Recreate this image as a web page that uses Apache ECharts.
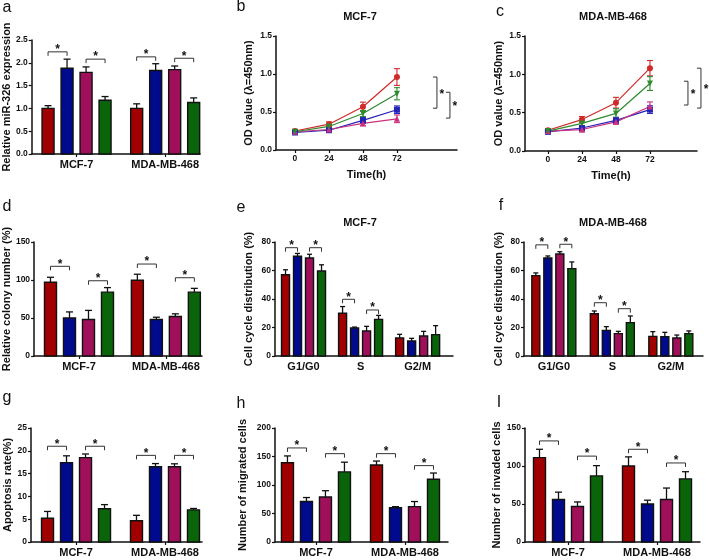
<!DOCTYPE html>
<html>
<head>
<meta charset="utf-8">
<script src="https://cdn.jsdelivr.net/npm/echarts@6/dist/echarts.min.js"></script>
<style>
html, body { margin: 0; background: #fff; }
#main { width: 709px; height: 560px; }
</style>
</head>
<body>
<div id="main"></div>
<script>
// groups on the x axis
var cellLines = ['MCF-7', 'MDA-MB-468'];
var phases = ['G1/G0', 'S', 'G2/M'];
var timePoints = [0, 24, 48, 72];

// bar order: red, blue, magenta, green ; one row per bar colour, one column per group
// a - relative miR-326 expression
var exprMean = [[1.00, 1.00], [1.88, 1.83], [1.79, 1.85], [1.18, 1.13]];
var exprErr = [[0.06, 0.10], [0.20, 0.15], [0.12, 0.08], [0.08, 0.10]];
var exprSig = [[0, 0, 1, 2.24], [0, 2, 3, 2.08], [1, 0, 1, 2.13], [1, 2, 3, 2.10]];

// b - CCK8 MCF-7 (line order: red, blue, magenta, green)
var odMcfMean = [[0.25, 0.34, 0.57, 0.96], [0.23, 0.26, 0.39, 0.53], [0.24, 0.27, 0.35, 0.41], [0.24, 0.31, 0.48, 0.74]];
var odMcfErr = [[0.02, 0.03, 0.06, 0.11], [0.02, 0.02, 0.04, 0.05], [0.02, 0.02, 0.03, 0.05], [0.02, 0.02, 0.04, 0.08]];
var odMcfSig = [[0.96, 0.55], [0.76, 0.42]];

// c - CCK8 MDA-MB-468
var odMdaMean = [[0.27, 0.41, 0.63, 1.08], [0.25, 0.30, 0.40, 0.54], [0.26, 0.28, 0.38, 0.58], [0.26, 0.36, 0.49, 0.88]];
var odMdaErr = [[0.02, 0.04, 0.07, 0.10], [0.02, 0.03, 0.04, 0.05], [0.02, 0.03, 0.03, 0.06], [0.02, 0.03, 0.06, 0.09]];
var odMdaSig = [[0.91, 0.60], [1.08, 0.56]];

// d - relative colony number
var colonyMean = [[97, 99.6], [50, 48], [48, 52], [84, 84]];
var colonyErr = [[6.6, 8], [8, 3], [12, 3.5], [6, 5]];
var colonySig = [[0, 0, 1, 118], [0, 2, 3, 99], [1, 0, 1, 121], [1, 2, 3, 103]];

// e - cell cycle MCF-7
var cycMcfMean = [[57, 30, 12.6], [70, 19.6, 10.5], [68.8, 17.5, 14], [59.6, 25.7, 15]];
var cycMcfErr = [[3.5, 4.7, 2.6], [2, 0.7, 1.9], [2.6, 3.3, 3.3], [4.4, 2.8, 6.3]];
var cycMcfSig = [[0, 0, 1, 76], [0, 2, 3, 76], [1, 0, 1, 39.8], [1, 2, 3, 32.3]];

// f - cell cycle MDA-MB-468
var cycMdaMean = [[56.4, 29.7, 13.8], [68.8, 18, 13.6], [71.6, 15.7, 12.6], [61.3, 23.4, 15.7]];
var cycMdaErr = [[1.9, 1.9, 3.3], [1.4, 2.6, 3], [1.6, 1.6, 2.1], [4.7, 4.7, 1.9]];
var cycMdaSig = [[0, 0, 1, 78], [0, 2, 3, 78.4], [1, 0, 1, 37.4], [1, 2, 3, 33.2]];

// g - apoptosis rate
var apoMean = [[5.2, 4.65], [17.4, 16.5], [18.5, 16.5], [7.3, 7.05]];
var apoErr = [[1.5, 1.2], [1.5, 0.7], [0.8, 0.65], [0.9, 0.3]];
var apoSig = [[0, 0, 1, 21], [0, 2, 3, 21], [1, 0, 1, 19], [1, 2, 3, 19]];

// h - migrated cells
var migMean = [[139, 135], [71, 60], [79, 62], [123, 110]];
var migErr = [[12, 7], [7, 2], [11, 9], [17, 11]];
var migSig = [[0, 0, 1, 165], [0, 2, 3, 155], [1, 0, 1, 155], [1, 2, 3, 134]];

// i - invaded cells
var invMean = [[111, 100], [56, 50], [46.7, 56], [87, 83]];
var invErr = [[11, 12], [9.6, 5], [6, 15], [13.5, 9.5]];
var invSig = [[0, 0, 1, 133], [0, 2, 3, 113], [1, 0, 1, 122], [1, 2, 3, 104]];

var barColors = ['#a00000', '#000a8c', '#a0105a', '#0a640a'];
var lineColors = ['#d02a2a', '#2323b8', '#c8327e', '#2d8a2d'];
var lineSymbols = ['circle', 'rect', 'triangle', 'triangle'];
var lineRotate = [0, 0, 0, 180];
var FONT = 'Liberation Sans, Arial, sans-serif';

var option = {
    animation: false,
    backgroundColor: '#fff',
    grid: [],
    xAxis: [],
    yAxis: [],
    series: [],
    graphic: []
};

function yAxisFor(p, idx) {
    return {
        type: 'value', gridIndex: idx, min: 0, max: p.yMax, interval: p.yStep,
        name: p.yName, nameLocation: 'middle', nameGap: p.nameGap,
        nameTextStyle: { fontFamily: FONT, fontWeight: 'bold', fontSize: 11, color: '#111' },
        axisLine: { show: true, onZero: false, lineStyle: { color: '#111', width: 1.5 } },
        axisTick: { show: true, length: 3, lineStyle: { color: '#111', width: 1.2 } },
        axisLabel: {
            fontFamily: FONT, fontWeight: 'bold', fontSize: 8.5, color: '#111', margin: 4,
            formatter: function (v) { return p.decimals ? v.toFixed(p.decimals) : String(v); }
        },
        splitLine: { show: false }
    };
}

function addText(x, y, text, size, bold) {
    option.graphic.push({
        type: 'text', x: x, y: y,
        style: {
            text: text, fill: '#111', fontFamily: FONT, fontSize: size,
            fontWeight: bold ? 'bold' : 'normal', align: 'center', verticalAlign: 'middle'
        }
    });
}

function addBarPanel(p) {
    var idx = option.grid.length;
    option.grid.push({ left: p.box[0], top: p.box[1], width: p.box[2], height: p.box[3] });
    var catIdx = p.cats.map(function (c, i) { return i; });
    option.xAxis.push({
        type: 'value', gridIndex: idx, min: p.xRange[0], max: p.xRange[1],
        axisLine: { show: true, onZero: false, lineStyle: { color: '#111', width: 1.5 } },
        axisTick: { show: p.ticks, customValues: catIdx, length: 3, lineStyle: { color: '#111', width: 1.2 } },
        axisLabel: {
            customValues: catIdx, margin: 5, fontFamily: FONT, fontWeight: 'bold', fontSize: 11, color: '#111',
            formatter: function (v) { return p.cats[Math.round(v)]; }
        },
        splitLine: { show: false }
    });
    option.yAxis.push(yAxisFor(p, idx));

    var w = p.barW, step = p.step, cap = p.cap;
    var bars = [];
    for (var s = 0; s < 4; s++) {
        for (var c = 0; c < p.cats.length; c++) {
            bars.push([c, s, p.mean[s][c], p.err[s][c]]);
        }
    }
    option.series.push({
        type: 'custom', xAxisIndex: idx, yAxisIndex: idx,
        encode: { x: 0, y: 2 },
        data: bars,
        renderItem: function (params, api) {
            var c = api.value(0), s = api.value(1), v = api.value(2), e = api.value(3);
            var base = api.coord([c, 0]);
            var top = api.coord([c, v]);
            var et = api.coord([c, v + e]);
            var cx = base[0] + (s - 1.5) * step;
            return {
                type: 'group',
                children: [
                    { type: 'line', shape: { x1: cx, y1: top[1], x2: cx, y2: et[1] }, style: { stroke: '#111', lineWidth: 1.3 } },
                    { type: 'line', shape: { x1: cx - cap, y1: et[1], x2: cx + cap, y2: et[1] }, style: { stroke: '#111', lineWidth: 1.3 } },
                    { type: 'rect', shape: { x: cx - w / 2, y: top[1], width: w, height: base[1] - top[1] },
                      style: { fill: barColors[s], stroke: '#111', lineWidth: 1.4 } }
                ]
            };
        }
    });
    option.series.push({
        type: 'custom', xAxisIndex: idx, yAxisIndex: idx,
        encode: { x: 0, y: 3 },
        data: p.sig,
        renderItem: function (params, api) {
            var pt = api.coord([api.value(0), api.value(3)]);
            var xa = pt[0] + (api.value(1) - 1.5) * step;
            var xb = pt[0] + (api.value(2) - 1.5) * step;
            return {
                type: 'group',
                children: [
                    { type: 'polyline', shape: { points: [[xa, pt[1] + 4], [xa, pt[1]], [xb, pt[1]], [xb, pt[1] + 4]] },
                      style: { stroke: '#333', lineWidth: 1, fill: null } },
                    { type: 'text', x: (xa + xb) / 2, y: pt[1] - 2,
                      style: { text: '*', fontFamily: FONT, fontWeight: 'bold', fontSize: 12, fill: '#111', align: 'center', verticalAlign: 'middle' } }
                ]
            };
        }
    });
}

function addLinePanel(p) {
    var idx = option.grid.length;
    option.grid.push({ left: p.box[0], top: p.box[1], width: p.box[2], height: p.box[3] });
    option.xAxis.push({
        type: 'value', gridIndex: idx, min: p.xRange[0], max: p.xRange[1],
        name: 'Time(h)', nameLocation: 'middle', nameGap: 19,
        nameTextStyle: { fontFamily: FONT, fontWeight: 'bold', fontSize: 11, color: '#111' },
        axisLine: { show: true, onZero: false, lineStyle: { color: '#111', width: 1.5 } },
        axisTick: { show: true, customValues: timePoints, length: 3, lineStyle: { color: '#111', width: 1.2 } },
        axisLabel: { customValues: timePoints, margin: 4, fontFamily: FONT, fontWeight: 'bold', fontSize: 8.5, color: '#111' },
        splitLine: { show: false }
    });
    option.yAxis.push(yAxisFor(p, idx));

    var errs = [];
    for (var k = 0; k < 4; k++) {
        var pts = [];
        for (var i = 0; i < timePoints.length; i++) {
            pts.push([timePoints[i], p.mean[k][i]]);
            errs.push([timePoints[i], p.mean[k][i], p.err[k][i], k]);
        }
        option.series.push({
            type: 'line', xAxisIndex: idx, yAxisIndex: idx, data: pts, z: 3,
            symbol: lineSymbols[k], symbolRotate: lineRotate[k], symbolSize: 6,
            lineStyle: { color: lineColors[k], width: 1.2 },
            itemStyle: { color: lineColors[k] }
        });
    }
    option.series.push({
        type: 'custom', xAxisIndex: idx, yAxisIndex: idx, z: 2,
        encode: { x: 0, y: 1 },
        data: errs,
        renderItem: function (params, api) {
            var t = api.value(0), m = api.value(1), e = api.value(2), k = api.value(3);
            var hi = api.coord([t, m + e]);
            var lo = api.coord([t, m - e]);
            var col = lineColors[k];
            return {
                type: 'group',
                children: [
                    { type: 'line', shape: { x1: hi[0], y1: hi[1], x2: lo[0], y2: lo[1] }, style: { stroke: col, lineWidth: 1.1 } },
                    { type: 'line', shape: { x1: hi[0] - 3, y1: hi[1], x2: hi[0] + 3, y2: hi[1] }, style: { stroke: col, lineWidth: 1.1 } },
                    { type: 'line', shape: { x1: lo[0] - 3, y1: lo[1], x2: lo[0] + 3, y2: lo[1] }, style: { stroke: col, lineWidth: 1.1 } }
                ]
            };
        }
    });
    var sigData = p.sig.map(function (d, j) { return [72, d[0], d[1], j]; });
    option.series.push({
        type: 'custom', xAxisIndex: idx, yAxisIndex: idx,
        encode: { x: 0, y: 1 },
        data: sigData,
        renderItem: function (params, api) {
            var a = api.coord([api.value(0), api.value(1)]);
            var b = api.coord([api.value(0), api.value(2)]);
            var x = a[0] + p.sigOffset + 13 * api.value(3);
            return {
                type: 'group',
                children: [
                    { type: 'polyline', shape: { points: [[x - 4, a[1]], [x, a[1]], [x, b[1]], [x - 4, b[1]]] },
                      style: { stroke: '#333', lineWidth: 1, fill: null } },
                    { type: 'text', x: x + 5, y: (a[1] + b[1]) / 2 + 2,
                      style: { text: '*', fontFamily: FONT, fontWeight: 'bold', fontSize: 12, fill: '#111', align: 'center', verticalAlign: 'middle' } }
                ]
            };
        }
    });
}

// a
addBarPanel({ box: [31, 40, 169, 114], xRange: [-0.506, 1.393], cats: cellLines, ticks: true,
    yMax: 2.5, yStep: 0.5, decimals: 1, yName: 'Relative miR-326 expression', nameGap: 18,
    mean: exprMean, err: exprErr, sig: exprSig, barW: 12, step: 19, cap: 3.5 });
// b
addLinePanel({ box: [276, 36, 181, 114], xRange: [-13.4, 114.4],
    yMax: 1.5, yStep: 0.5, decimals: 1, yName: 'OD value (\u03bb=450nm)', nameGap: 22,
    mean: odMcfMean, err: odMcfErr, sig: odMcfSig, sigOffset: 40 });
// c
addLinePanel({ box: [525, 36, 172, 115], xRange: [-16.2, 105.2],
    yMax: 1.5, yStep: 0.5, decimals: 1, yName: 'OD value (\u03bb=450nm)', nameGap: 21,
    mean: odMdaMean, err: odMdaErr, sig: odMdaSig, sigOffset: 38 });
// d
addBarPanel({ box: [30, 242, 172, 114], xRange: [-0.517, 1.416], cats: cellLines, ticks: true,
    yMax: 150, yStep: 50, decimals: 0, yName: 'Relative colony number (%)', nameGap: 18,
    mean: colonyMean, err: colonyErr, sig: colonySig, barW: 12, step: 19, cap: 3.5 });
// e
addBarPanel({ box: [275, 242, 178, 114], xRange: [-0.5, 2.62], cats: phases, ticks: false,
    yMax: 80, yStep: 20, decimals: 0, yName: 'Cell cycle distribution (%)', nameGap: 21,
    mean: cycMcfMean, err: cycMcfErr, sig: cycMcfSig, barW: 8, step: 12, cap: 2.5 });
// f
addBarPanel({ box: [524, 242, 179, 114], xRange: [-0.51, 2.55], cats: phases, ticks: false,
    yMax: 80, yStep: 20, decimals: 0, yName: 'Cell cycle distribution (%)', nameGap: 20,
    mean: cycMdaMean, err: cycMdaErr, sig: cycMdaSig, barW: 8, step: 12, cap: 2.5 });
// g
addBarPanel({ box: [31, 428, 171, 114], xRange: [-0.506, 1.416], cats: cellLines, ticks: true,
    yMax: 25, yStep: 5, decimals: 0, yName: 'Apoptosis rate(%)', nameGap: 18,
    mean: apoMean, err: apoErr, sig: apoSig, barW: 12, step: 19, cap: 3.5 });
// h
addBarPanel({ box: [275, 428, 173, 114], xRange: [-0.46, 1.483], cats: cellLines, ticks: true,
    yMax: 200, yStep: 50, decimals: 0, yName: 'Number of migrated cells', nameGap: 27,
    mean: migMean, err: migErr, sig: migSig, barW: 12, step: 19, cap: 3.5 });
// i
addBarPanel({ box: [525, 428, 175, 114], xRange: [-0.483, 1.483], cats: cellLines, ticks: true,
    yMax: 150, yStep: 50, decimals: 0, yName: 'Number of invaded cells', nameGap: 22,
    mean: invMean, err: invErr, sig: invSig, barW: 12, step: 19, cap: 3.5 });

// panel titles
addText(360, 17, 'MCF-7', 11, true);
addText(613, 17, 'MDA-MB-468', 11, true);
addText(360, 223, 'MCF-7', 11, true);
addText(613, 223, 'MDA-MB-468', 11, true);

// panel letters
addText(7, 8, 'a', 16, false);
addText(241, 7, 'b', 16, false);
addText(500, 12, 'c', 16, false);
addText(7, 207, 'd', 16, false);
addText(241, 208, 'e', 16, false);
addText(501, 206, 'f', 16, false);
addText(7, 398, 'g', 16, false);
addText(241, 404, 'h', 16, false);
addText(499, 403, 'I', 16, false);

var myChart = echarts.init(document.getElementById('main'));
myChart.setOption(option);
</script>
</body>
</html>
